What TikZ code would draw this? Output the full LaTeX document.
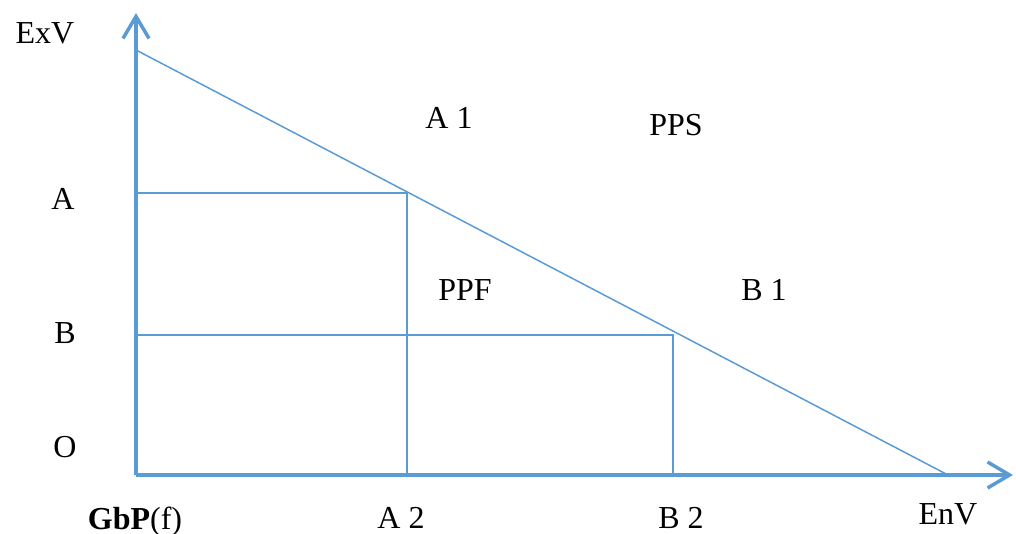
\documentclass[tikz,border=0pt]{standalone}
\usepackage{fontspec}
\setmainfont{Liberation Serif}
\usetikzlibrary{arrows.meta}
\definecolor{axblue}{RGB}{91,155,213}
\tikzset{
  axis/.style={draw=axblue, line width=3.5pt, -{Straight Barb[length=22pt,width=26pt,line width=3.5pt]}},
  thin/.style={draw=axblue, line width=1.5pt},
  lbl/.style={inner sep=0pt, font=\fontsize{32}{38}\selectfont, anchor=base},
}
\begin{document}
\begin{tikzpicture}[x=1pt,y=-1pt]
\useasboundingbox (0,0) rectangle (1016,534);
\coordinate (O) at (136,475);
\coordinate (Ytip) at (136,13);
\coordinate (Xtip) at (1013,475);
\coordinate (Top) at (136,50);
\coordinate (End) at (948,475);
\coordinate (Ay) at (136,193);
\coordinate (Ap) at (407,193);
\coordinate (Ax) at (407,475);
\coordinate (By) at (136,335);
\coordinate (Bp) at (673,335);
\coordinate (Bx) at (673,475);
\draw[thin] (Top) -- (End);
\draw[thin] (Ay) -- (Ap) -- (Ax);
\draw[thin] (By) -- (Bp) -- (Bx);
\draw[axis] (O) -- (Ytip);
\draw[axis] (O) -- (Xtip);
\node[lbl] (exv) at (45,44) {ExV};
\node[lbl] (la) at (63,210) {A};
\node[lbl] (lb) at (65,343) {B};
\node[lbl] (lo) at (65,457) {O};
\node[lbl] (gbp) at (135,529) {\textbf{GbP}(f)};
\node[lbl] (a2) at (401,528) {A 2};
\node[lbl] (b2) at (681,528) {B 2};
\node[lbl] (env) at (948,524) {EnV};
\node[lbl] (a1) at (449,129) {A 1};
\node[lbl] (pps) at (676,136) {PPS};
\node[lbl] (ppf) at (465,301) {PPF};
\node[lbl] (b1) at (764,301) {B 1};
\end{tikzpicture}
\end{document}
